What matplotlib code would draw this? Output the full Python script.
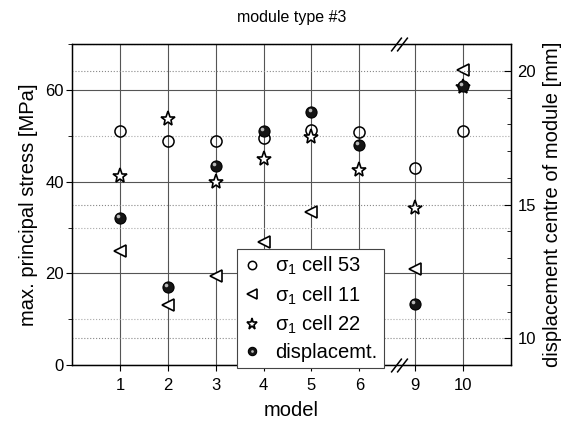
import numpy as np
import matplotlib
matplotlib.use('Agg')
import matplotlib.pyplot as plt
from matplotlib.path import Path
from matplotlib.ticker import MultipleLocator
from matplotlib.transforms import blended_transform_factory, ScaledTranslation
from matplotlib.legend_handler import HandlerTuple

plt.rcParams['font.family'] = ['Liberation Sans', 'DejaVu Sans']
plt.rcParams['mathtext.fontset'] = 'custom'
plt.rcParams['mathtext.rm'] = 'Liberation Sans'
plt.rcParams['mathtext.it'] = 'Liberation Sans:italic'

# data ------------------------------------------------------------------------
models = [1, 2, 3, 4, 5, 6, 9, 10]
cell53 = [51.0, 48.8, 48.8, 49.6, 51.3, 50.9, 43.0, 51.1]   # MPa
cell11 = [24.8, 13.0, 19.4, 26.8, 33.5, 20.0, 21.0, 64.3]   # MPa (6 hidden by legend)
cell22 = [41.3, 53.6, 40.0, 44.9, 49.8, 42.5, 34.2, 60.7]   # MPa
displ = [14.49, 11.91, 16.43, 17.74, 18.45, 17.24, 11.28, 19.45]  # mm

# broken x axis (6 -> 9) ------------------------------------------------------
brk_lo, brk_hi = 6.83, 8.67
gap = brk_hi - brk_lo

def fwd(x):
    x = np.asarray(x, float)
    return np.where(x <= brk_lo, x, np.where(x >= brk_hi, x - gap, brk_lo))

def inv(u):
    u = np.asarray(u, float)
    return np.where(u <= brk_lo, u, u + gap)

fig = plt.figure(figsize=(5.77, 4.25), dpi=100)
ax = fig.add_axes([0.125, 0.141, 0.76, 0.755])
ax.set_xscale('function', functions=(fwd, inv))
ax.set_xlim(0, 11)
ax.set_ylim(0, 70)
ax.set_xticks(models, [str(m) for m in models])
ax.set_yticks([0, 20, 40, 60])
ax.yaxis.set_minor_locator(MultipleLocator(10))

ax.grid(axis='x', color='#555555', lw=0.8)
ax.grid(axis='y', which='major', color='#555555', lw=0.8)
ax.grid(axis='y', which='minor', color='#aaaaaa', lw=0.8, ls=':')
ax.set_axisbelow(True)

ax.tick_params(axis='y', which='major', direction='out', length=4, pad=2, labelsize=12)
ax.tick_params(axis='y', which='minor', direction='out', length=3)
ax.tick_params(axis='x', direction='out', length=4, pad=5, labelsize=12)
for sp in ax.spines.values():
    sp.set_linewidth(1.0)

h53, = ax.plot(models, cell53, 'o', ms=8, mfc='none', mec='k', mew=1.1)
h11, = ax.plot(models, cell11, '<', ms=9, mfc='white', mec='k', mew=1.2)
h22, = ax.plot(models, cell22, '*', ms=11, mfc='white', mec='k', mew=1.2)

ax.set_xlabel('model', fontsize=14.5, labelpad=6)
ax.set_ylabel('max. principal stress [MPa]', fontsize=14.5, labelpad=5)
ax.set_title('module type #3', fontsize=11.5, pad=16)

# right axis: displacement ----------------------------------------------------
ax2 = ax.twinx()
ax2.set_ylim(9, 21)
ax2.set_yticks([10, 15, 20])
ax2.yaxis.set_minor_locator(MultipleLocator(1))
ax2.grid(axis='y', which='major', color='#888888', lw=0.8, ls=':')
ax2.tick_params(axis='y', which='major', direction='in', length=5, pad=5, labelsize=12)
ax2.tick_params(axis='y', which='minor', direction='in', length=3)
ax2.set_ylabel('displacement centre of module [mm]', fontsize=14.5, labelpad=5)

hd, = ax2.plot(models, displ, 'o', ms=8, mfc='#151515', mec='k', mew=0.8)
hl_tr = ax2.transData + ScaledTranslation(-1.4/72, 1.4/72, fig.dpi_scale_trans)
hh, = ax2.plot(models, displ, 'o', ms=2.6, mfc='#bbbbbb', mec='none', transform=hl_tr)

# break marks "//" on top and bottom axis
trans = blended_transform_factory(ax.transData, ax.transAxes)
slash = Path([(-0.77, -1.0), (0.77, 1.0)])
for yy in (0, 1):
    for dx in (-2.3, 2.3):
        t = trans + ScaledTranslation(dx/72, 0, fig.dpi_scale_trans)
        ax2.plot([brk_lo], [yy], marker=slash, ms=10, mec='k', mew=1.1,
                 transform=t, clip_on=False, zorder=10)

leg = ax2.legend([h53, h11, h22, (hd, hh)],
                 [r'$\mathrm{\sigma}_1$ cell 53', r'$\mathrm{\sigma}_1$ cell 11',
                  r'$\mathrm{\sigma}_1$ cell 22', 'displacemt.'],
                 handler_map={tuple: HandlerTuple(ndivide=1)},
                 loc='lower left', bbox_to_anchor=(0.411, 0.134),
                 bbox_transform=fig.transFigure, borderaxespad=0,
                 fancybox=False, framealpha=1, edgecolor='#444444',
                 fontsize=14.5, markerscale=0.75, handlelength=0.9,
                 handletextpad=0.7, borderpad=0.3, labelspacing=0.35)
leg.get_frame().set_linewidth(0.8)

fig.savefig('out.png', dpi=100)
